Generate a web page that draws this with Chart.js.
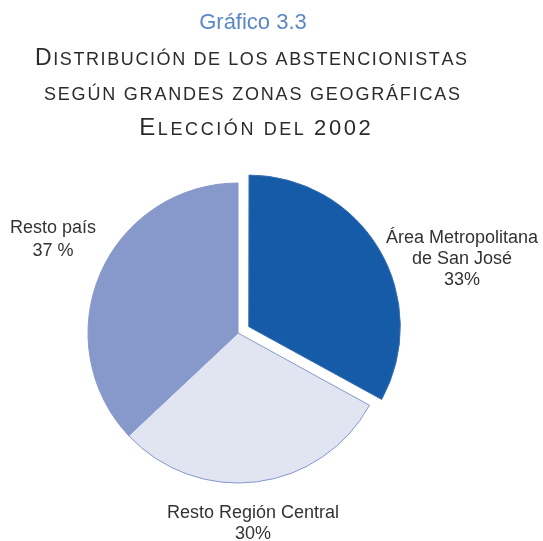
<!DOCTYPE html>
<html>
<head>
<meta charset="utf-8">
<script src="https://cdn.jsdelivr.net/npm/chart.js@4.4.1/dist/chart.umd.min.js"></script>
<style>
  html, body { margin: 0; padding: 0; background: #fff; }
  #wrap { width: 543px; height: 541px; }
</style>
</head>
<body>
<div id="wrap"><canvas id="zonasChart" width="543" height="541"></canvas></div>
<script>
// datos
const zonas = [["Área Metropolitana", "de San José"], ["Resto Región Central"], ["Resto país"]];
const porcentajes = [33, 30, 37];
const etiquetasPct = ["33%", "30%", "37 %"];

const colores = ["#155ba8", "#e1e5f2", "#8799cb"];
const bordes = ["#3a70b4", "#8597cf", "#8799cb"];

const FONT = "'Liberation Sans', Arial, Helvetica, sans-serif";

// titulo en versalitas, letra por letra
function drawSmallCaps(ctx, text, cx, baseline, sizes, tracking) {
    const parts = [];
    for (const ch of text) {
        let size, glyph = ch;
        if (ch === " ") size = sizes.small;
        else if (/[0-9]/.test(ch)) size = sizes.digit;
        else if (ch === ch.toUpperCase()) size = sizes.cap;
        else { size = sizes.small; glyph = ch.toUpperCase(); }
        ctx.font = size + "px " + FONT;
        parts.push({ glyph, size, w: ctx.measureText(glyph).width });
    }
    let total = parts.reduce((s, p) => s + p.w, 0) + tracking * (parts.length - 1);
    let x = cx - total / 2;
    for (const p of parts) {
        ctx.font = p.size + "px " + FONT;
        ctx.fillText(p.glyph, x, baseline);
        x += p.w + tracking;
    }
}

const tituloPlugin = {
    id: "titulo",
    afterDraw(chart) {
        const ctx = chart.ctx;
        ctx.save();
        ctx.textBaseline = "alphabetic";
        ctx.textAlign = "center";
        ctx.fillStyle = "#5b87c9";
        ctx.font = "22px " + FONT;
        ctx.fillText("Gráfico 3.3", 253, 29);

        ctx.textAlign = "left";
        ctx.fillStyle = "#2b2b2b";
        drawSmallCaps(ctx, "Distribución de los abstencionistas", 251, 65, { cap: 23, small: 18, digit: 22 }, 1.6);
        drawSmallCaps(ctx, "según grandes zonas geográficas", 252, 100, { cap: 23, small: 18, digit: 22 }, 1.8);
        drawSmallCaps(ctx, "Elección del 2002", 255, 135, { cap: 24, small: 18, digit: 22 }, 2.6);
        ctx.restore();
    }
};

// etiquetas alrededor del pastel, relativas al centro
const posEtiquetas = [
    { dx: 224, dy: -90 },
    { dx: 15, dy: 185 },
    { dx: -185, dy: -100 }
];

const etiquetasPlugin = {
    id: "etiquetas",
    afterDraw(chart) {
        const ctx = chart.ctx;
        const meta = chart.getDatasetMeta(0);
        const cx = (chart.chartArea.left + chart.chartArea.right) / 2;
        const cy = (chart.chartArea.top + chart.chartArea.bottom) / 2;
        ctx.save();
        ctx.fillStyle = "#333333";
        ctx.font = "18px " + FONT;
        ctx.textAlign = "center";
        ctx.textBaseline = "alphabetic";
        meta.data.forEach((arc, i) => {
            const lines = zonas[i].concat([etiquetasPct[i]]);
            const lh = i === 2 ? 23 : 21;
            lines.forEach((t, j) => {
                ctx.fillText(t, cx + posEtiquetas[i].dx, cy + posEtiquetas[i].dy + j * lh);
            });
        });
        ctx.restore();
    }
};

const data = {
    labels: zonas.map(z => z.join(" ")),
    datasets: [
        {
            data: porcentajes,
            backgroundColor: colores,
            borderColor: bordes,
            borderWidth: 1,
            // Chart.js v4 divide el offset: 50 da unos 14 px de separación
            offset: [50, 0, 0],
            radius: 150,
        },
    ],
};

const config = {
    type: "pie",
    data: data,
    options: {
        responsive: false,
        animation: false,
        layout: { padding: { left: 68, right: 135, top: 163, bottom: 38 } },
        plugins: {
            legend: { display: false },
            tooltip: { enabled: false },
            title: { display: false },
        },
    },
    plugins: [tituloPlugin, etiquetasPlugin],
};

const zonasChart = new Chart(document.getElementById("zonasChart"), config);
</script>
</body>
</html>
